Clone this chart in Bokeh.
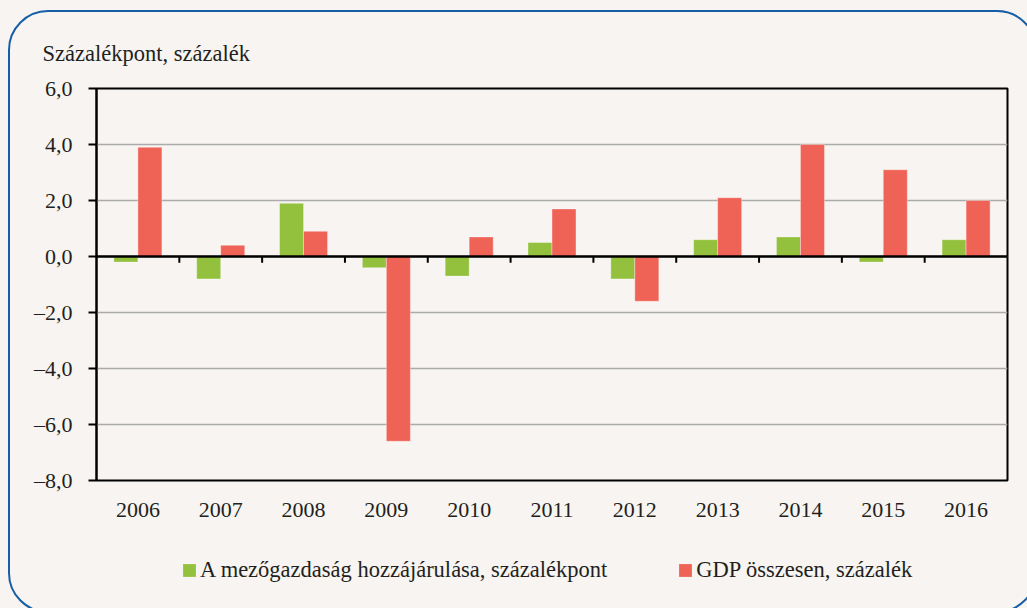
from bokeh.plotting import figure
from bokeh.layouts import column
from bokeh.models import Range1d, FixedTicker, Span, Legend, LegendItem, InlineStyleSheet
from bokeh.embed import file_html
from bokeh.resources import INLINE

years = ["2006", "2007", "2008", "2009", "2010", "2011", "2012", "2013", "2014", "2015", "2016"]
agri = [-0.2, -0.8, 1.9, -0.4, -0.7, 0.5, -0.8, 0.6, 0.7, -0.2, 0.6]
gdp = [3.9, 0.4, 0.9, -6.6, 0.7, 1.7, -1.6, 2.1, 4.0, 3.1, 2.0]
y_ticks = [-8, -6, -4, -2, 0, 2, 4, 6]
title_text = "Százalékpont, százalék"
agri_name = "A mezőgazdaság hozzájárulása, százalékpont"
gdp_name = "GDP összesen, százalék"

BG = "#F7F4F1"
GREEN = "#93C13D"
RED = "#EF6357"
TXT = "#231F20"
FONT = "Liberation Serif"
FS = "22px"
FS_BIG = "22.5px"

n = len(years)
bw = 0.29
centers = [i + 0.5 for i in range(n)]

p = figure(width=1027, height=540, output_backend="svg", toolbar_location=None,
           x_range=Range1d(0, n), y_range=Range1d(y_ticks[0], y_ticks[-1]),
           min_border_left=96, min_border_right=20, min_border_top=88, min_border_bottom=60)
p.background_fill_color = BG
p.border_fill_color = BG
p.outline_line_color = "black"
p.outline_line_width = 2

r1 = p.vbar(x=[c - bw / 2 for c in centers], width=bw, top=agri, bottom=0,
            fill_color=GREEN, line_color="white", line_alpha=0.35, line_width=1)
r2 = p.vbar(x=[c + bw / 2 for c in centers], width=bw, top=gdp, bottom=0,
            fill_color=RED, line_color="white", line_alpha=0.35, line_width=1)

# zero line and category separator ticks
p.add_layout(Span(location=0, dimension="width", line_color="black", line_width=2.5))
bounds = list(range(1, n))
p.segment(x0=bounds, x1=bounds, y0=[0] * len(bounds), y1=[-0.22] * len(bounds),
          line_color="black", line_width=2)

# grid
p.xgrid.grid_line_color = None
p.ygrid.ticker = FixedTicker(ticks=y_ticks)
p.ygrid.grid_line_color = "#ABABAB"
p.ygrid.grid_line_width = 1.5

# y axis
ya = p.yaxis[0]
ya.ticker = FixedTicker(ticks=y_ticks)
ya.major_label_overrides = {t: f"{t:.1f}".replace(".", ",").replace("-", "\u2013") for t in y_ticks}
ya.axis_line_color = "black"
ya.axis_line_width = 2
ya.major_tick_line_color = "black"
ya.major_tick_line_width = 2
ya.major_tick_out = 8
ya.major_tick_in = 0
ya.minor_tick_line_color = None
ya.major_label_standoff = 16
ya.major_label_text_font = FONT
ya.major_label_text_font_size = FS
ya.major_label_text_color = TXT

# x axis
xa = p.xaxis[0]
xa.ticker = FixedTicker(ticks=centers)
xa.major_label_overrides = {c: y for c, y in zip(centers, years)}
xa.axis_line_color = None
xa.major_tick_line_color = None
xa.minor_tick_line_color = None
xa.major_label_standoff = 16
xa.major_label_text_font = FONT
xa.major_label_text_font_size = FS
xa.major_label_text_color = TXT

# title
p.title.text = title_text
p.title.align = "left"
p.title.offset = -54
p.title.standoff = 46
p.title.text_font = FONT
p.title.text_font_size = FS_BIG
p.title.text_font_style = "normal"
p.title.text_color = TXT

# legend strip (separate figure so the legend is not clipped by the plot frame)
lf = figure(width=1027, height=68, output_backend="svg", toolbar_location=None,
            x_range=Range1d(0, n), y_range=Range1d(y_ticks[0], y_ticks[-1]),
            x_axis_location=None, y_axis_location=None,
            min_border=0, min_border_left=0, min_border_right=0,
            min_border_top=0, min_border_bottom=0)
lf.background_fill_color = None
lf.border_fill_color = BG
lf.outline_line_color = None
lf.grid.grid_line_color = None
d1 = lf.vbar(x=centers, top=agri, width=bw, fill_color=GREEN, line_color=None, visible=False)
d2 = lf.vbar(x=centers, top=gdp, width=bw, fill_color=RED, line_color=None, visible=False)
legend = Legend(items=[LegendItem(label=agri_name, renderers=[d1]),
                       LegendItem(label=gdp_name, renderers=[d2])],
                orientation="horizontal", location=(85, 25),
                glyph_width=16, glyph_height=16, label_standoff=3, spacing=70,
                label_height=24, padding=0, margin=0,
                border_line_color=None, background_fill_alpha=0,
                inactive_fill_alpha=0,
                label_text_font=FONT, label_text_font_size=FS_BIG, label_text_color=TXT)
lf.add_layout(legend)

layout = column(p, lf, spacing=0)
layout.stylesheets = [InlineStyleSheet(css="""
:host { position: relative; overflow: hidden; background: #F7F4F1; }
:host::after {
  content: ""; position: absolute; left: 8px; top: 10px; width: 1029px; height: 603px;
  box-sizing: border-box; border: 2px solid #175EA6; border-radius: 40px; pointer-events: none;
  z-index: 10;
}
""")]

open("out.html", "w").write(file_html(layout, INLINE))
